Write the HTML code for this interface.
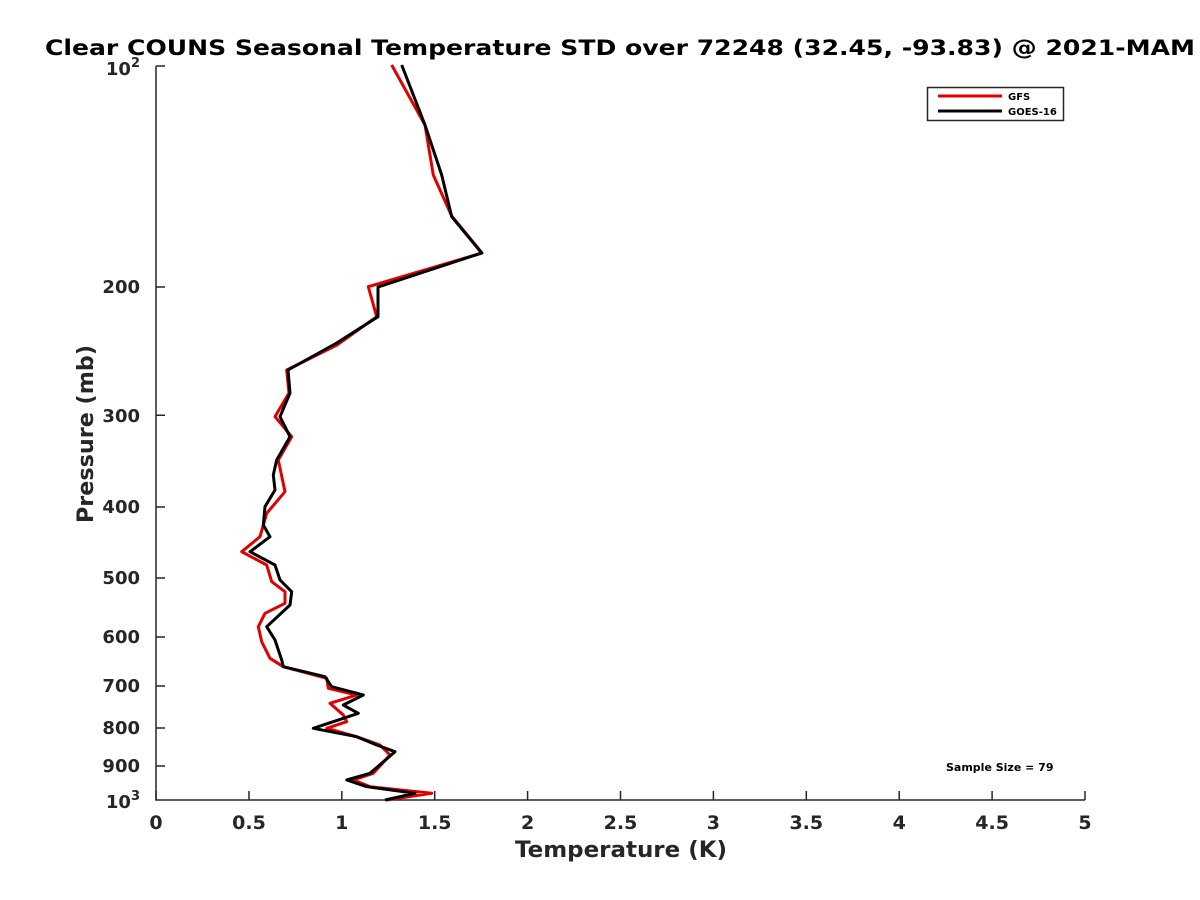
<!DOCTYPE html>
<html><head><meta charset="utf-8"><style>body{margin:0;background:#fff}svg{display:block}</style></head><body>
<svg width="1200" height="900" xmlns="http://www.w3.org/2000/svg" font-family="DejaVu Sans, Liberation Sans, sans-serif" font-weight="bold">
<rect width="1200" height="900" fill="#fff"/>
<text x="620" y="55" font-size="21" text-anchor="middle" textLength="1150" lengthAdjust="spacingAndGlyphs" fill="#000">Clear COUNS Seasonal Temperature STD over 72248 (32.45, -93.83) @ 2021-MAM</text>
<g stroke="#262626" stroke-width="1.5" fill="none">
<path d="M156,66 V800 H1085"/>
<path d="M156,66 h9 M156,287 h9 M156,415.3 h9 M156,507 h9 M156,578 h9 M156,637 h9 M156,686 h9 M156,728 h9 M156,766 h9"/>
<path d="M156,800 v-9 M341.8,800 v-9 M527.6,800 v-9 M713.4,800 v-9 M899.2,800 v-9 M1085,800 v-9 M249,800 v-9 M434.7,800 v-9 M620.5,800 v-9 M806.3,800 v-9 M992.1,800 v-9"/>
</g>
<g font-size="18" fill="#262626" text-anchor="end">
<text x="140" y="75">10<tspan font-size="13" dy="-8">2</tspan></text>
<text x="140" y="293">200</text><text x="140" y="422">300</text><text x="140" y="513">400</text>
<text x="140" y="584">500</text><text x="140" y="643">600</text><text x="140" y="692">700</text>
<text x="140" y="734">800</text><text x="140" y="772">900</text>
<text x="140" y="808">10<tspan font-size="13" dy="-8">3</tspan></text>
</g>
<g font-size="19" fill="#262626" text-anchor="middle">
<text x="156" y="829">0</text><text x="249" y="829">0.5</text><text x="341.8" y="829">1</text>
<text x="434.7" y="829">1.5</text><text x="527.6" y="829">2</text><text x="620.5" y="829">2.5</text>
<text x="713.4" y="829">3</text><text x="806.3" y="829">3.5</text><text x="899.2" y="829">4</text>
<text x="992.1" y="829">4.5</text><text x="1085" y="829">5</text>
<text x="621" y="857" font-size="22" textLength="212" lengthAdjust="spacingAndGlyphs">Temperature (K)</text>
<text transform="translate(93,434) rotate(-90)" font-size="22" textLength="178" lengthAdjust="spacingAndGlyphs">Pressure (mb)</text>
</g>
<polyline fill="none" stroke="#e00000" stroke-width="3" stroke-linejoin="round" points="391.7,65 425,125 433.3,175 451.7,216 482,253 368.3,286.7 376.7,316.7 337,345 286.7,370 289,393 275,416.7 291.7,436.7 278.3,460 285,491.7 266.7,513.3 260,536.7 241.7,551.7 266.7,565 271.7,581.7 285,591.7 285,603.3 265,613.3 258.3,626.7 261.7,641.7 270,658.3 283.3,666.7 326.7,678.3 328.3,688.3 356.7,695 330,703.3 343.3,715 346.7,721.7 326.7,728.3 356.7,736.7 380,745 390,755 373.3,773.3 353.3,780 370,786.7 431.7,793.3 386.7,800"/>
<polyline fill="none" stroke="#000" stroke-width="3" stroke-linejoin="round" points="401.7,65 425,125 441.7,175 451.7,216.7 481.7,253 378,287 378,316.7 336.7,343 288,370 290,393 280,416.7 290,436.7 276.7,460 273.3,475 275,490 265,506.7 263.3,525 270,536.7 250,551.7 275,565 280,580 291.7,591.7 290,605 266.7,626.7 275,640 281.7,660 283.3,666.7 325,676.7 331.7,686.7 363.3,695 343.3,705 358.3,713.3 313.3,728.3 356.7,736.7 376.7,745 395,751.7 370,773.3 346.7,780 366.7,786.7 415,793.3 385,800"/>
<rect x="927.5" y="87.5" width="136" height="33" fill="#fff" stroke="#262626" stroke-width="1.5"/>
<line x1="938" y1="96" x2="1002" y2="96" stroke="#e00000" stroke-width="3"/>
<line x1="938" y1="111" x2="1002" y2="111" stroke="#000" stroke-width="3"/>
<g font-size="10" fill="#000"><text x="1008" y="100">GFS</text><text x="1008" y="115">GOES-16</text>
<text x="946" y="771" font-size="11">Sample Size = 79</text></g>
</svg>
</body></html>
